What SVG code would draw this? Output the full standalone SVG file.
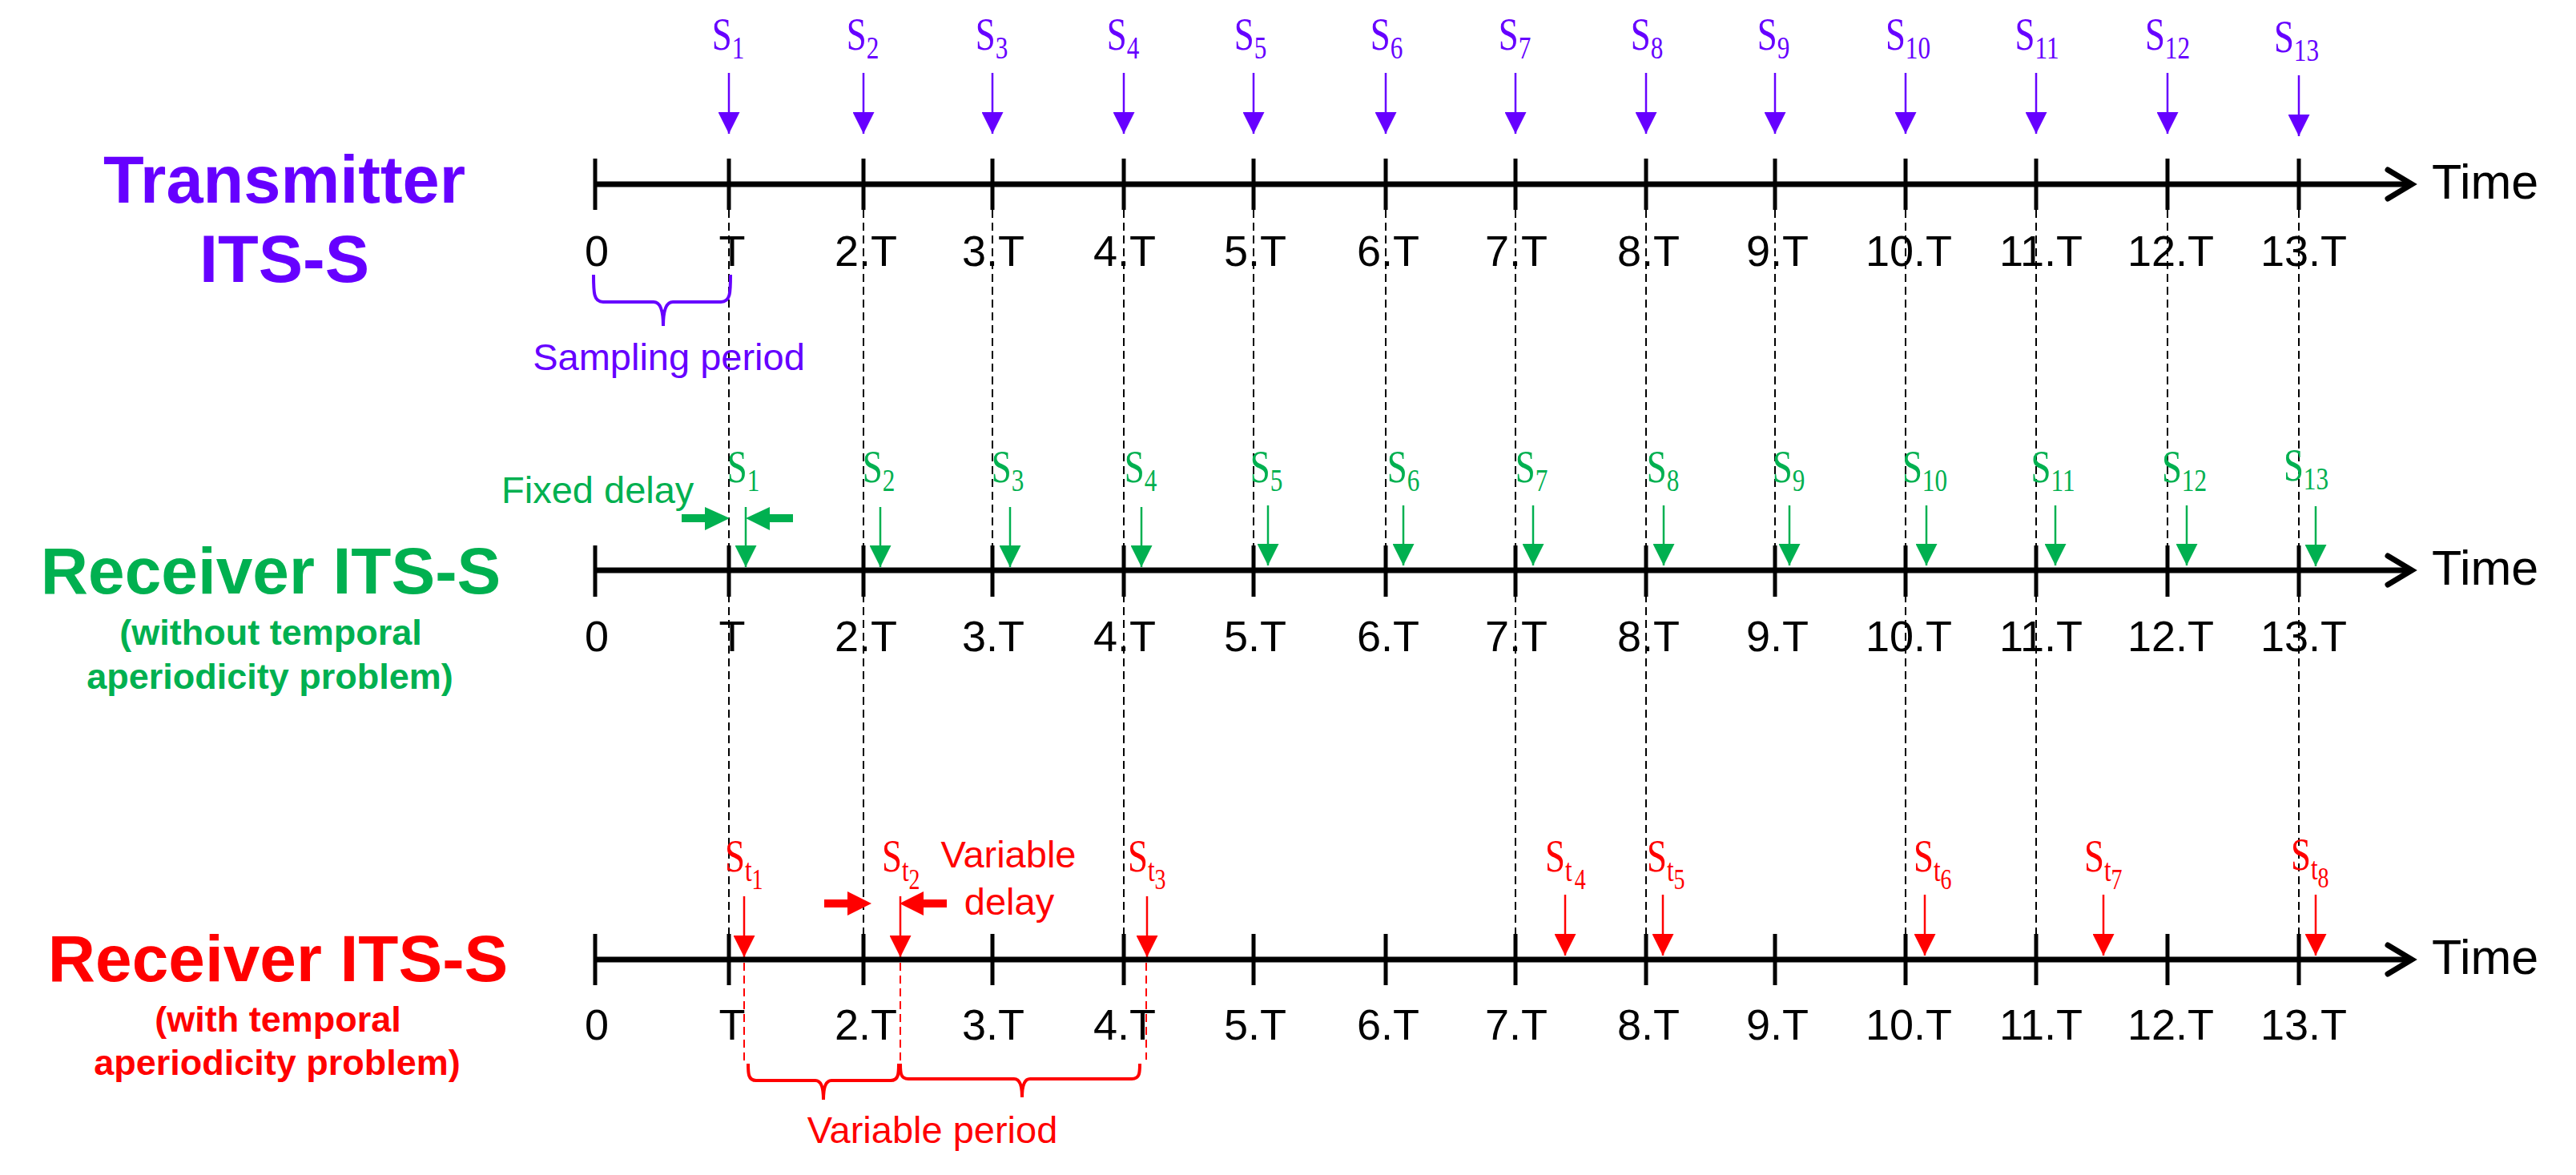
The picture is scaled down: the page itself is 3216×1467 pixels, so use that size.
<svg xmlns="http://www.w3.org/2000/svg" width="3216" height="1467" viewBox="0 0 3216 1467">
<style>
.bg{fill:#ffffff}
.axis{stroke:#000;stroke-width:7;fill:none}
.chev{stroke:#000;stroke-width:7;fill:none;stroke-linecap:round;stroke-linejoin:miter}
.tick{stroke:#000;stroke-width:5}
.dash{stroke:#000;stroke-width:2;stroke-dasharray:10 6;fill:none}
.rdash{stroke:#FF0000;stroke-width:2;stroke-dasharray:10 6;fill:none}
.tl{font-family:"Liberation Sans",Arial,sans-serif;font-size:54px;fill:#000;text-anchor:middle}
.time{font-family:"Liberation Sans",Arial,sans-serif;font-size:61px;fill:#000}
.big{font-family:"Liberation Sans",Arial,sans-serif;font-weight:bold;font-size:83px;text-anchor:middle}
.sub2{font-family:"Liberation Sans",Arial,sans-serif;font-weight:bold;font-size:45px;text-anchor:middle}
.note{font-family:"Liberation Sans",Arial,sans-serif;font-size:47px}
.m{font-family:"Liberation Serif","Times New Roman",serif;font-size:56px}
.mc{text-anchor:middle}
.mi{font-size:39px}
.mii{font-size:35px}
.pu{fill:#6600FF}
.gr{fill:#00B050}
.rd{fill:#FF0000}
.pl{stroke:#6600FF;stroke-width:2.5}
.gl{stroke:#00B050;stroke-width:2.5}
.rl{stroke:#FF0000;stroke-width:2.5}
.brp{stroke:#6600FF;stroke-width:4;fill:none}
.brr{stroke:#FF0000;stroke-width:4;fill:none}
</style>
<defs>
<marker id="hp" markerUnits="userSpaceOnUse" viewBox="0 0 27 27" refX="27" refY="13.5" markerWidth="27" markerHeight="27" orient="auto"><path d="M0,0 L27,13.5 L0,27 z" fill="#6600FF"/></marker>
<marker id="hg" markerUnits="userSpaceOnUse" viewBox="0 0 27 27" refX="27" refY="13.5" markerWidth="27" markerHeight="27" orient="auto"><path d="M0,0 L27,13.5 L0,27 z" fill="#00B050"/></marker>
<marker id="hr" markerUnits="userSpaceOnUse" viewBox="0 0 27 27" refX="27" refY="13.5" markerWidth="27" markerHeight="27" orient="auto"><path d="M0,0 L27,13.5 L0,27 z" fill="#FF0000"/></marker>
</defs>
<rect class="bg" x="0" y="0" width="3216" height="1467"/>

<!-- connectors: dashed guide lines and arrows -->
<g id="connectors">
  <g id="guides">
    <line class="dash" x1="910" y1="262" x2="910" y2="1166"/>
    <line class="dash" x1="1078" y1="262" x2="1078" y2="1166"/>
    <line class="dash" x1="1239" y1="262" x2="1239" y2="681"/>
    <line class="dash" x1="1403" y1="262" x2="1403" y2="1166"/>
    <line class="dash" x1="1565" y1="262" x2="1565" y2="681"/>
    <line class="dash" x1="1730" y1="262" x2="1730" y2="681"/>
    <line class="dash" x1="1892" y1="262" x2="1892" y2="1166"/>
    <line class="dash" x1="2055" y1="262" x2="2055" y2="1166"/>
    <line class="dash" x1="2216" y1="262" x2="2216" y2="681"/>
    <line class="dash" x1="2379" y1="262" x2="2379" y2="1166"/>
    <line class="dash" x1="2542" y1="262" x2="2542" y2="1166"/>
    <line class="dash" x1="2706" y1="262" x2="2706" y2="681"/>
    <line class="dash" x1="2870" y1="262" x2="2870" y2="1166"/>
    <line class="rdash" x1="929" y1="1202" x2="929" y2="1327"/>
    <line class="rdash" x1="1124" y1="1202" x2="1124" y2="1327"/>
    <line class="rdash" x1="1431" y1="1202" x2="1431" y2="1323"/>
  </g>
  <g id="tx-arrows">
    <line class="pl" x1="910" y1="91" x2="910" y2="167" marker-end="url(#hp)"/>
    <line class="pl" x1="1078" y1="91" x2="1078" y2="167" marker-end="url(#hp)"/>
    <line class="pl" x1="1239" y1="91" x2="1239" y2="167" marker-end="url(#hp)"/>
    <line class="pl" x1="1403" y1="91" x2="1403" y2="167" marker-end="url(#hp)"/>
    <line class="pl" x1="1565" y1="91" x2="1565" y2="167" marker-end="url(#hp)"/>
    <line class="pl" x1="1730" y1="91" x2="1730" y2="167" marker-end="url(#hp)"/>
    <line class="pl" x1="1892" y1="91" x2="1892" y2="167" marker-end="url(#hp)"/>
    <line class="pl" x1="2055" y1="91" x2="2055" y2="167" marker-end="url(#hp)"/>
    <line class="pl" x1="2216" y1="91" x2="2216" y2="167" marker-end="url(#hp)"/>
    <line class="pl" x1="2379" y1="91" x2="2379" y2="167" marker-end="url(#hp)"/>
    <line class="pl" x1="2542" y1="91" x2="2542" y2="167" marker-end="url(#hp)"/>
    <line class="pl" x1="2706" y1="91" x2="2706" y2="167" marker-end="url(#hp)"/>
    <line class="pl" x1="2870" y1="94" x2="2870" y2="170" marker-end="url(#hp)"/>
  </g>
  <g id="rx1-arrows">
    <line class="gl" x1="931" y1="633" x2="931" y2="708" marker-end="url(#hg)"/>
    <line class="gl" x1="1099" y1="633" x2="1099" y2="708" marker-end="url(#hg)"/>
    <line class="gl" x1="1261" y1="633" x2="1261" y2="708" marker-end="url(#hg)"/>
    <line class="gl" x1="1425" y1="633" x2="1425" y2="708" marker-end="url(#hg)"/>
    <line class="gl" x1="1583" y1="631" x2="1583" y2="706" marker-end="url(#hg)"/>
    <line class="gl" x1="1752" y1="631" x2="1752" y2="706" marker-end="url(#hg)"/>
    <line class="gl" x1="1914" y1="631" x2="1914" y2="706" marker-end="url(#hg)"/>
    <line class="gl" x1="2077" y1="631" x2="2077" y2="706" marker-end="url(#hg)"/>
    <line class="gl" x1="2234" y1="631" x2="2234" y2="706" marker-end="url(#hg)"/>
    <line class="gl" x1="2405" y1="631" x2="2405" y2="706" marker-end="url(#hg)"/>
    <line class="gl" x1="2566" y1="631" x2="2566" y2="706" marker-end="url(#hg)"/>
    <line class="gl" x1="2730" y1="631" x2="2730" y2="706" marker-end="url(#hg)"/>
    <line class="gl" x1="2891" y1="632" x2="2891" y2="707" marker-end="url(#hg)"/>
  </g>
  <g id="rx2-arrows">
    <line class="rl" x1="929" y1="1119" x2="929" y2="1195" marker-end="url(#hr)"/>
    <line class="rl" x1="1124" y1="1119" x2="1124" y2="1195" marker-end="url(#hr)"/>
    <line class="rl" x1="1432" y1="1119" x2="1432" y2="1195" marker-end="url(#hr)"/>
    <line class="rl" x1="1954" y1="1117" x2="1954" y2="1193" marker-end="url(#hr)"/>
    <line class="rl" x1="2076" y1="1117" x2="2076" y2="1193" marker-end="url(#hr)"/>
    <line class="rl" x1="2403" y1="1117" x2="2403" y2="1193" marker-end="url(#hr)"/>
    <line class="rl" x1="2626" y1="1117" x2="2626" y2="1193" marker-end="url(#hr)"/>
    <line class="rl" x1="2891" y1="1117" x2="2891" y2="1193" marker-end="url(#hr)"/>
  </g>
  <g id="fixed-delay-arrows" fill="#00B050">
    <path d="M851,642 L880,642 L880,633 L911,647 L880,662 L880,652 L851,652 Z"/>
    <path d="M990,642 L961,642 L961,633 L931,647 L961,662 L961,652 L990,652 Z"/>
  </g>
  <g id="variable-delay-arrows" fill="#FF0000">
    <path d="M1029,1123 L1058,1123 L1058,1113 L1088,1128 L1058,1143 L1058,1133 L1029,1133 Z"/>
    <path d="M1182,1123 L1153,1123 L1153,1113 L1123,1128 L1153,1143 L1153,1133 L1182,1133 Z"/>
  </g>
</g>

<!-- Transmitter row -->
<g id="transmitter">
  <text class="big pu" x="355" y="253">Transmitter</text>
  <text class="big pu" x="355" y="352">ITS-S</text>
  <g id="tx-axis">
    <line class="axis" x1="743" y1="230" x2="3011" y2="230"/>
    <polyline class="chev" points="2981,212 3011,230 2981,248"/>
    <line class="tick" x1="743" y1="198" x2="743" y2="262"/>
    <line class="tick" x1="910" y1="198" x2="910" y2="262"/>
    <line class="tick" x1="1078" y1="198" x2="1078" y2="262"/>
    <line class="tick" x1="1239" y1="198" x2="1239" y2="262"/>
    <line class="tick" x1="1403" y1="198" x2="1403" y2="262"/>
    <line class="tick" x1="1565" y1="198" x2="1565" y2="262"/>
    <line class="tick" x1="1730" y1="198" x2="1730" y2="262"/>
    <line class="tick" x1="1892" y1="198" x2="1892" y2="262"/>
    <line class="tick" x1="2055" y1="198" x2="2055" y2="262"/>
    <line class="tick" x1="2216" y1="198" x2="2216" y2="262"/>
    <line class="tick" x1="2379" y1="198" x2="2379" y2="262"/>
    <line class="tick" x1="2542" y1="198" x2="2542" y2="262"/>
    <line class="tick" x1="2706" y1="198" x2="2706" y2="262"/>
    <line class="tick" x1="2870" y1="198" x2="2870" y2="262"/>
    <text class="time" x="3036" y="248">Time</text>
  </g>
  <g id="tx-ticklabels">
    <text class="tl" x="745" y="332">0</text>
    <text class="tl" x="914" y="332">T</text>
    <text class="tl" x="1081" y="332">2.T</text>
    <text class="tl" x="1240" y="332">3.T</text>
    <text class="tl" x="1404" y="332">4.T</text>
    <text class="tl" x="1567" y="332">5.T</text>
    <text class="tl" x="1733" y="332">6.T</text>
    <text class="tl" x="1893" y="332">7.T</text>
    <text class="tl" x="2058" y="332">8.T</text>
    <text class="tl" x="2219" y="332">9.T</text>
    <text class="tl" x="2383" y="332">10.T</text>
    <text class="tl" x="2548" y="332">11.T</text>
    <text class="tl" x="2710" y="332">12.T</text>
    <text class="tl" x="2876" y="332">13.T</text>
  </g>
  <g id="tx-samples" class="m mc pu">
    <text transform="translate(909,62) scale(0.8,1)">S<tspan class="mi" dy="11">1</tspan></text>
    <text transform="translate(1077,62) scale(0.8,1)">S<tspan class="mi" dy="11">2</tspan></text>
    <text transform="translate(1238,62) scale(0.8,1)">S<tspan class="mi" dy="11">3</tspan></text>
    <text transform="translate(1402,62) scale(0.8,1)">S<tspan class="mi" dy="11">4</tspan></text>
    <text transform="translate(1561,62) scale(0.8,1)">S<tspan class="mi" dy="11">5</tspan></text>
    <text transform="translate(1731,62) scale(0.8,1)">S<tspan class="mi" dy="11">6</tspan></text>
    <text transform="translate(1891,62) scale(0.8,1)">S<tspan class="mi" dy="11">7</tspan></text>
    <text transform="translate(2056,62) scale(0.8,1)">S<tspan class="mi" dy="11">8</tspan></text>
    <text transform="translate(2214,62) scale(0.8,1)">S<tspan class="mi" dy="11">9</tspan></text>
    <text transform="translate(2382,62) scale(0.8,1)">S<tspan class="mi" dy="11">10</tspan></text>
    <text transform="translate(2543,62) scale(0.8,1)">S<tspan class="mi" dy="11">11</tspan></text>
    <text transform="translate(2706,62) scale(0.8,1)">S<tspan class="mi" dy="11">12</tspan></text>
    <text transform="translate(2867,65) scale(0.8,1)">S<tspan class="mi" dy="11">13</tspan></text>
  </g>
  <g id="sampling-period">
    <path class="brp" d="M741,343 C741,365 741,377 753,377 L816,377 Q828,377 828,407 Q828,377 840,377 L900,377 C912,377 912,365 912,343"/>
    <text class="note pu" x="835" y="462" text-anchor="middle">Sampling period</text>
  </g>
</g>

<!-- Receiver without aperiodicity -->
<g id="receiver-fixed">
  <text class="big gr" x="338" y="741" style="font-size:82px">Receiver ITS-S</text>
  <text class="sub2 gr" x="338" y="805">(without temporal</text>
  <text class="sub2 gr" x="337" y="860">aperiodicity problem)</text>
  <g id="rx1-axis">
    <line class="axis" x1="743" y1="712" x2="3011" y2="712"/>
    <polyline class="chev" points="2981,694 3011,712 2981,730"/>
    <line class="tick" x1="743" y1="681" x2="743" y2="745"/>
    <line class="tick" x1="910" y1="681" x2="910" y2="745"/>
    <line class="tick" x1="1078" y1="681" x2="1078" y2="745"/>
    <line class="tick" x1="1239" y1="681" x2="1239" y2="745"/>
    <line class="tick" x1="1403" y1="681" x2="1403" y2="745"/>
    <line class="tick" x1="1565" y1="681" x2="1565" y2="745"/>
    <line class="tick" x1="1730" y1="681" x2="1730" y2="745"/>
    <line class="tick" x1="1892" y1="681" x2="1892" y2="745"/>
    <line class="tick" x1="2055" y1="681" x2="2055" y2="745"/>
    <line class="tick" x1="2216" y1="681" x2="2216" y2="745"/>
    <line class="tick" x1="2379" y1="681" x2="2379" y2="745"/>
    <line class="tick" x1="2542" y1="681" x2="2542" y2="745"/>
    <line class="tick" x1="2706" y1="681" x2="2706" y2="745"/>
    <line class="tick" x1="2870" y1="681" x2="2870" y2="745"/>
    <text class="time" x="3036" y="730">Time</text>
  </g>
  <g id="rx1-ticklabels">
    <text class="tl" x="745" y="813">0</text>
    <text class="tl" x="914" y="813">T</text>
    <text class="tl" x="1081" y="813">2.T</text>
    <text class="tl" x="1240" y="813">3.T</text>
    <text class="tl" x="1404" y="813">4.T</text>
    <text class="tl" x="1567" y="813">5.T</text>
    <text class="tl" x="1733" y="813">6.T</text>
    <text class="tl" x="1893" y="813">7.T</text>
    <text class="tl" x="2058" y="813">8.T</text>
    <text class="tl" x="2219" y="813">9.T</text>
    <text class="tl" x="2383" y="813">10.T</text>
    <text class="tl" x="2548" y="813">11.T</text>
    <text class="tl" x="2710" y="813">12.T</text>
    <text class="tl" x="2876" y="813">13.T</text>
  </g>
  <g id="rx1-samples" class="m mc gr">
    <text transform="translate(928,602) scale(0.8,1)">S<tspan class="mi" dy="11">1</tspan></text>
    <text transform="translate(1097,602) scale(0.8,1)">S<tspan class="mi" dy="11">2</tspan></text>
    <text transform="translate(1258,602) scale(0.8,1)">S<tspan class="mi" dy="11">3</tspan></text>
    <text transform="translate(1424,602) scale(0.8,1)">S<tspan class="mi" dy="11">4</tspan></text>
    <text transform="translate(1581,602) scale(0.8,1)">S<tspan class="mi" dy="11">5</tspan></text>
    <text transform="translate(1752,602) scale(0.8,1)">S<tspan class="mi" dy="11">6</tspan></text>
    <text transform="translate(1912,602) scale(0.8,1)">S<tspan class="mi" dy="11">7</tspan></text>
    <text transform="translate(2076,602) scale(0.8,1)">S<tspan class="mi" dy="11">8</tspan></text>
    <text transform="translate(2233,602) scale(0.8,1)">S<tspan class="mi" dy="11">9</tspan></text>
    <text transform="translate(2403,602) scale(0.8,1)">S<tspan class="mi" dy="11">10</tspan></text>
    <text transform="translate(2563,602) scale(0.8,1)">S<tspan class="mi" dy="11">11</tspan></text>
    <text transform="translate(2727,602) scale(0.8,1)">S<tspan class="mi" dy="11">12</tspan></text>
    <text transform="translate(2879,600) scale(0.8,1)">S<tspan class="mi" dy="11">13</tspan></text>
  </g>
  <text id="fixed-delay" class="note gr" x="626" y="628">Fixed delay</text>
</g>

<!-- Receiver with aperiodicity -->
<g id="receiver-variable">
  <text class="big rd" x="347" y="1225" style="font-size:82px">Receiver ITS-S</text>
  <text class="sub2 rd" x="347" y="1288">(with temporal</text>
  <text class="sub2 rd" x="346" y="1342">aperiodicity problem)</text>
  <g id="rx2-axis">
    <line class="axis" x1="743" y1="1198" x2="3011" y2="1198"/>
    <polyline class="chev" points="2981,1180 3011,1198 2981,1216"/>
    <line class="tick" x1="743" y1="1166" x2="743" y2="1230"/>
    <line class="tick" x1="910" y1="1166" x2="910" y2="1230"/>
    <line class="tick" x1="1078" y1="1166" x2="1078" y2="1230"/>
    <line class="tick" x1="1239" y1="1166" x2="1239" y2="1230"/>
    <line class="tick" x1="1403" y1="1166" x2="1403" y2="1230"/>
    <line class="tick" x1="1565" y1="1166" x2="1565" y2="1230"/>
    <line class="tick" x1="1730" y1="1166" x2="1730" y2="1230"/>
    <line class="tick" x1="1892" y1="1166" x2="1892" y2="1230"/>
    <line class="tick" x1="2055" y1="1166" x2="2055" y2="1230"/>
    <line class="tick" x1="2216" y1="1166" x2="2216" y2="1230"/>
    <line class="tick" x1="2379" y1="1166" x2="2379" y2="1230"/>
    <line class="tick" x1="2542" y1="1166" x2="2542" y2="1230"/>
    <line class="tick" x1="2706" y1="1166" x2="2706" y2="1230"/>
    <line class="tick" x1="2870" y1="1166" x2="2870" y2="1230"/>
    <text class="time" x="3036" y="1216">Time</text>
  </g>
  <g id="rx2-ticklabels">
    <text class="tl" x="745" y="1298">0</text>
    <text class="tl" x="914" y="1298">T</text>
    <text class="tl" x="1081" y="1298">2.T</text>
    <text class="tl" x="1240" y="1298">3.T</text>
    <text class="tl" x="1404" y="1298">4.T</text>
    <text class="tl" x="1567" y="1298">5.T</text>
    <text class="tl" x="1733" y="1298">6.T</text>
    <text class="tl" x="1893" y="1298">7.T</text>
    <text class="tl" x="2058" y="1298">8.T</text>
    <text class="tl" x="2219" y="1298">9.T</text>
    <text class="tl" x="2383" y="1298">10.T</text>
    <text class="tl" x="2548" y="1298">11.T</text>
    <text class="tl" x="2710" y="1298">12.T</text>
    <text class="tl" x="2876" y="1298">13.T</text>
  </g>
  <g id="rx2-samples" class="m rd">
    <text transform="translate(905,1088) scale(0.8,1)">S<tspan class="mi" dy="12">t</tspan><tspan class="mii" dy="10">1</tspan></text>
    <text transform="translate(1101,1088) scale(0.8,1)">S<tspan class="mi" dy="12">t</tspan><tspan class="mii" dy="10">2</tspan></text>
    <text transform="translate(1408,1088) scale(0.8,1)">S<tspan class="mi" dy="12">t</tspan><tspan class="mii" dy="10">3</tspan></text>
    <text transform="translate(1929,1088) scale(0.8,1)">S<tspan class="mi" dy="12">t</tspan><tspan class="mii" dx="4" dy="10">4</tspan></text>
    <text transform="translate(2056,1088) scale(0.8,1)">S<tspan class="mi" dy="12">t</tspan><tspan class="mii" dy="10">5</tspan></text>
    <text transform="translate(2389,1088) scale(0.8,1)">S<tspan class="mi" dy="12">t</tspan><tspan class="mii" dy="10">6</tspan></text>
    <text transform="translate(2602,1088) scale(0.8,1)">S<tspan class="mi" dy="12">t</tspan><tspan class="mii" dy="10">7</tspan></text>
    <text transform="translate(2860,1086) scale(0.8,1)">S<tspan class="mi" dy="12">t</tspan><tspan class="mii" dy="10">8</tspan></text>
  </g>
  <g id="variable-delay">
    <text class="note rd" x="1259" y="1083" text-anchor="middle">Variable</text>
    <text class="note rd" x="1260" y="1142" text-anchor="middle">delay</text>
  </g>
  <g id="variable-period">
    <path class="brr" d="M934,1328 C934,1340 934,1349 944,1349 L1018,1349 Q1028,1349 1028,1373 Q1028,1349 1038,1349 L1112,1349 C1122,1349 1122,1340 1122,1328"/>
    <path class="brr" d="M1124,1328 C1124,1339 1124,1347 1134,1347 L1266,1347 Q1276,1347 1276,1370 Q1276,1347 1286,1347 L1413,1347 C1423,1347 1423,1339 1423,1328"/>
    <text class="note rd" x="1164" y="1427" text-anchor="middle">Variable period</text>
  </g>
</g>
</svg>
